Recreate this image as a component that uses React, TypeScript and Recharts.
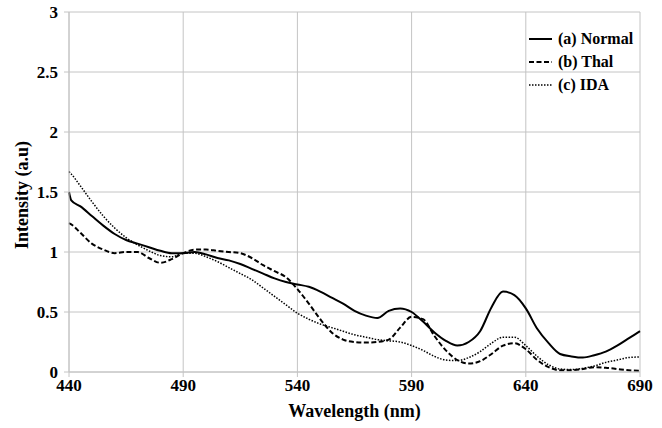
import React from 'react';
import { LineChart, Line, XAxis, YAxis, CartesianGrid, Legend } from 'recharts';

const wavelengths = [440, 441, 445, 450, 455, 460, 465, 470, 475, 480, 485, 490, 495, 500, 505, 510, 515, 520, 525, 530, 535, 540, 545, 550, 555, 560, 565, 570, 575, 580, 585, 590, 595, 600, 605, 610, 615, 620, 625, 630, 635, 640, 645, 650, 655, 660, 665, 670, 675, 680, 685, 690];

const normal = [1.50, 1.43, 1.38, 1.30, 1.22, 1.15, 1.10, 1.07, 1.04, 1.01, 0.99, 0.99, 1.00, 0.98, 0.95, 0.93, 0.90, 0.86, 0.82, 0.78, 0.75, 0.73, 0.71, 0.67, 0.62, 0.57, 0.51, 0.47, 0.45, 0.51, 0.53, 0.50, 0.42, 0.33, 0.26, 0.22, 0.25, 0.34, 0.54, 0.67, 0.64, 0.53, 0.36, 0.24, 0.15, 0.13, 0.12, 0.14, 0.17, 0.22, 0.28, 0.34];

const thal = [1.24, 1.23, 1.16, 1.07, 1.02, 0.99, 1.00, 1.00, 0.95, 0.91, 0.94, 0.99, 1.02, 1.02, 1.01, 1.00, 0.99, 0.95, 0.89, 0.84, 0.79, 0.69, 0.57, 0.44, 0.33, 0.27, 0.25, 0.245, 0.25, 0.27, 0.37, 0.46, 0.44, 0.30, 0.18, 0.10, 0.07, 0.09, 0.15, 0.22, 0.24, 0.19, 0.10, 0.04, 0.015, 0.015, 0.025, 0.04, 0.035, 0.025, 0.015, 0.01];

const ida = [1.67, 1.65, 1.55, 1.42, 1.30, 1.20, 1.12, 1.06, 1.01, 0.97, 0.96, 0.99, 0.99, 0.96, 0.92, 0.87, 0.82, 0.77, 0.70, 0.63, 0.56, 0.49, 0.44, 0.40, 0.37, 0.34, 0.31, 0.29, 0.27, 0.26, 0.25, 0.22, 0.18, 0.13, 0.10, 0.095, 0.12, 0.17, 0.24, 0.29, 0.29, 0.22, 0.13, 0.06, 0.025, 0.02, 0.03, 0.05, 0.08, 0.10, 0.12, 0.125];

const xTicks = [440, 490, 540, 590, 640, 690];
const yTicks = [0, 0.5, 1, 1.5, 2, 2.5, 3];

const seriesNames = ['(a) Normal', '(b) Thal', '(c) IDA'];
const seriesKeys = ['normal', 'thal', 'ida'];

const data = wavelengths.map((w, i) => ({ w, normal: normal[i], thal: thal[i], ida: ida[i] }));

const FONT = 'Liberation Serif, DejaVu Serif, serif';
const GRID = '#c4c4c4';

const styles: Record<string, { width: number; dash?: string }> = {
  normal: { width: 2 },
  thal: { width: 2, dash: '5 2.5' },
  ida: { width: 1.5, dash: '1.5 1.5' },
};

const renderLegend = () => (
  <div style={{ fontFamily: FONT, fontWeight: 'bold', fontSize: 16, color: '#000', lineHeight: '23px' }}>
    {seriesKeys.map((k, i) => (
      <div key={k} style={{ display: 'flex', alignItems: 'center', height: 23 }}>
        <svg width={24} height={10} style={{ marginRight: 5 }}>
          <line x1={0} y1={5} x2={23} y2={5} stroke="#000" strokeWidth={styles[k].width} strokeDasharray={styles[k].dash} />
        </svg>
        <span>{seriesNames[i]}</span>
      </div>
    ))}
  </div>
);

const tickStyle = { fontFamily: FONT, fontWeight: 'bold' as const, fontSize: 17, fill: '#000' };

export default function App() {
  return (
    <div style={{ position: 'absolute', left: 0, top: 0, width: 662, height: 428, background: '#fff', fontFamily: FONT }}>
      <LineChart width={662} height={428} data={data} margin={{ top: 12, right: 22, bottom: 0, left: 0 }} style={{ fontFamily: FONT }}>
        <CartesianGrid stroke={GRID} strokeWidth={1} />
        <XAxis
          type="number"
          dataKey="w"
          domain={[440, 690]}
          ticks={xTicks}
          interval={0}
          height={56}
          tickSize={5}
          tickMargin={2}
          stroke={GRID}
          tick={tickStyle}
          label={{ value: 'Wavelength (nm)', position: 'insideBottom', offset: 11, style: { fontFamily: FONT, fontWeight: 'bold', fontSize: 18, fill: '#000' } }}
        />
        <YAxis
          type="number"
          domain={[0, 3]}
          ticks={yTicks}
          interval={0}
          width={69}
          tickSize={5}
          tickMargin={6}
          stroke={GRID}
          tick={tickStyle}
          label={{
            content: (props: any) => {
              const vb = props.viewBox || {};
              const cx = (vb.x || 0) + 22;
              const cy = (vb.y || 0) + (vb.height || 0) / 2 + 3;
              return (
                <text x={cx} y={cy} transform={`rotate(-90, ${cx}, ${cy})`} textAnchor="middle" dominantBaseline="central" fontFamily={FONT} fontWeight="bold" fontSize={18} fill="#000">
                  Intensity (a.u)
                </text>
              );
            },
          }}
        />
        <Legend
          layout="vertical"
          align="center"
          verticalAlign="middle"
          content={renderLegend}
          wrapperStyle={{ top: 27, left: 529, width: 125, bottom: 'auto', right: 'auto' }}
        />
        {seriesKeys.map((k, i) => (
          <Line
            key={k}
            type="monotone"
            dataKey={k}
            name={seriesNames[i]}
            stroke="#000"
            strokeWidth={styles[k].width}
            strokeDasharray={styles[k].dash}
            dot={false}
            activeDot={false}
            isAnimationActive={false}
          />
        ))}
      </LineChart>
    </div>
  );
}
